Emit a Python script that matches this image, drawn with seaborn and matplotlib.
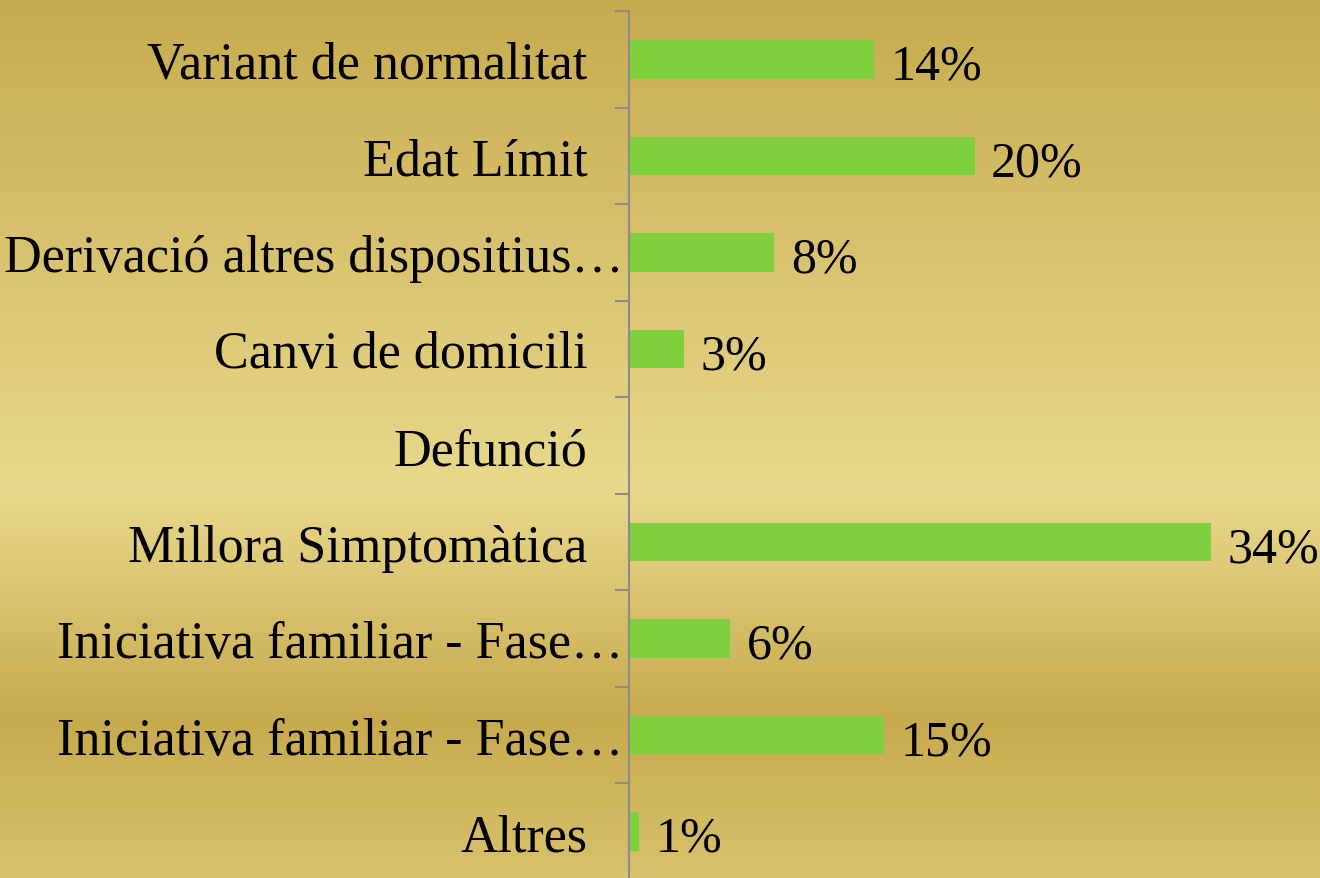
import numpy as np
import matplotlib
matplotlib.use("Agg")
import matplotlib.pyplot as plt
from matplotlib.colors import LinearSegmentedColormap
import pandas as pd
import seaborn as sns

categories = [
    "Variant de normalitat",
    "Edat Límit",
    "Derivació altres dispositius…",
    "Canvi de domicili",
    "Defunció",
    "Millora Simptomàtica",
    "Iniciativa familiar - Fase…",
    "Iniciativa familiar - Fase…",
    "Altres",
]
values = [14.3, 20.2, 8.5, 3.2, 0.0, 34.0, 5.9, 14.9, 0.6]

# two categories share a truncated name, so plot by row position
df = pd.DataFrame({"row": range(len(categories)), "value": values})

sns.set_theme(style="white")
plt.rcParams["font.family"] = ["Liberation Serif", "DejaVu Serif"]

fig = plt.figure(figsize=(13.2, 8.79), dpi=100)

# gold gradient background
bg = fig.add_axes([0, 0, 1, 1], zorder=-1)
gold = LinearSegmentedColormap.from_list(
    "gold",
    [(0.0, "#c8ab4f"), (0.56, "#e8d98c"), (0.82, "#c8aa4e"), (1.0, "#d7c26c")],
)
bg.imshow(np.linspace(0, 1, 600).reshape(-1, 1), aspect="auto", cmap=gold,
          extent=[0, 1, 0, 1], origin="upper")
bg.axis("off")

ax = fig.add_axes([629 / 1320, -2 / 879, 691 / 1320, 869 / 879])
ax.patch.set_alpha(0)
sns.barplot(data=df, x="value", y="row", orient="h", color="#7ed03c",
            saturation=1, width=0.4, linewidth=0, ax=ax)

ax.set_xlim(0, 40.4)
ax.set_xlabel("")
ax.set_ylabel("")
ax.set_xticks([])

for side in ["top", "right", "bottom"]:
    ax.spines[side].set_visible(False)
ax.spines["left"].set_color("#8c8c8c")
ax.spines["left"].set_linewidth(1.5)

ax.set_yticks(range(len(categories)))
ax.set_yticklabels(categories, fontsize=37.5, color="black")
ax.set_yticks(np.arange(-0.5, len(categories), 1), minor=True)
ax.tick_params(axis="y", which="major", length=0)
ax.tick_params(axis="y", which="minor", length=10, width=1.5,
               color="#8c8c8c", direction="out", left=True)
for tick, name in zip(ax.yaxis.get_major_ticks(), categories):
    tick.set_pad(4.3 if name.endswith("…") else 30)

labels = [f"{v:.0f}%" if v > 0 else "" for v in values]
texts = ax.bar_label(ax.containers[0], labels=labels, padding=12,
                     fontsize=36, color="black")
for t in texts:
    t.xyann = (12, -5)

fig.savefig("out.png", dpi=100)
